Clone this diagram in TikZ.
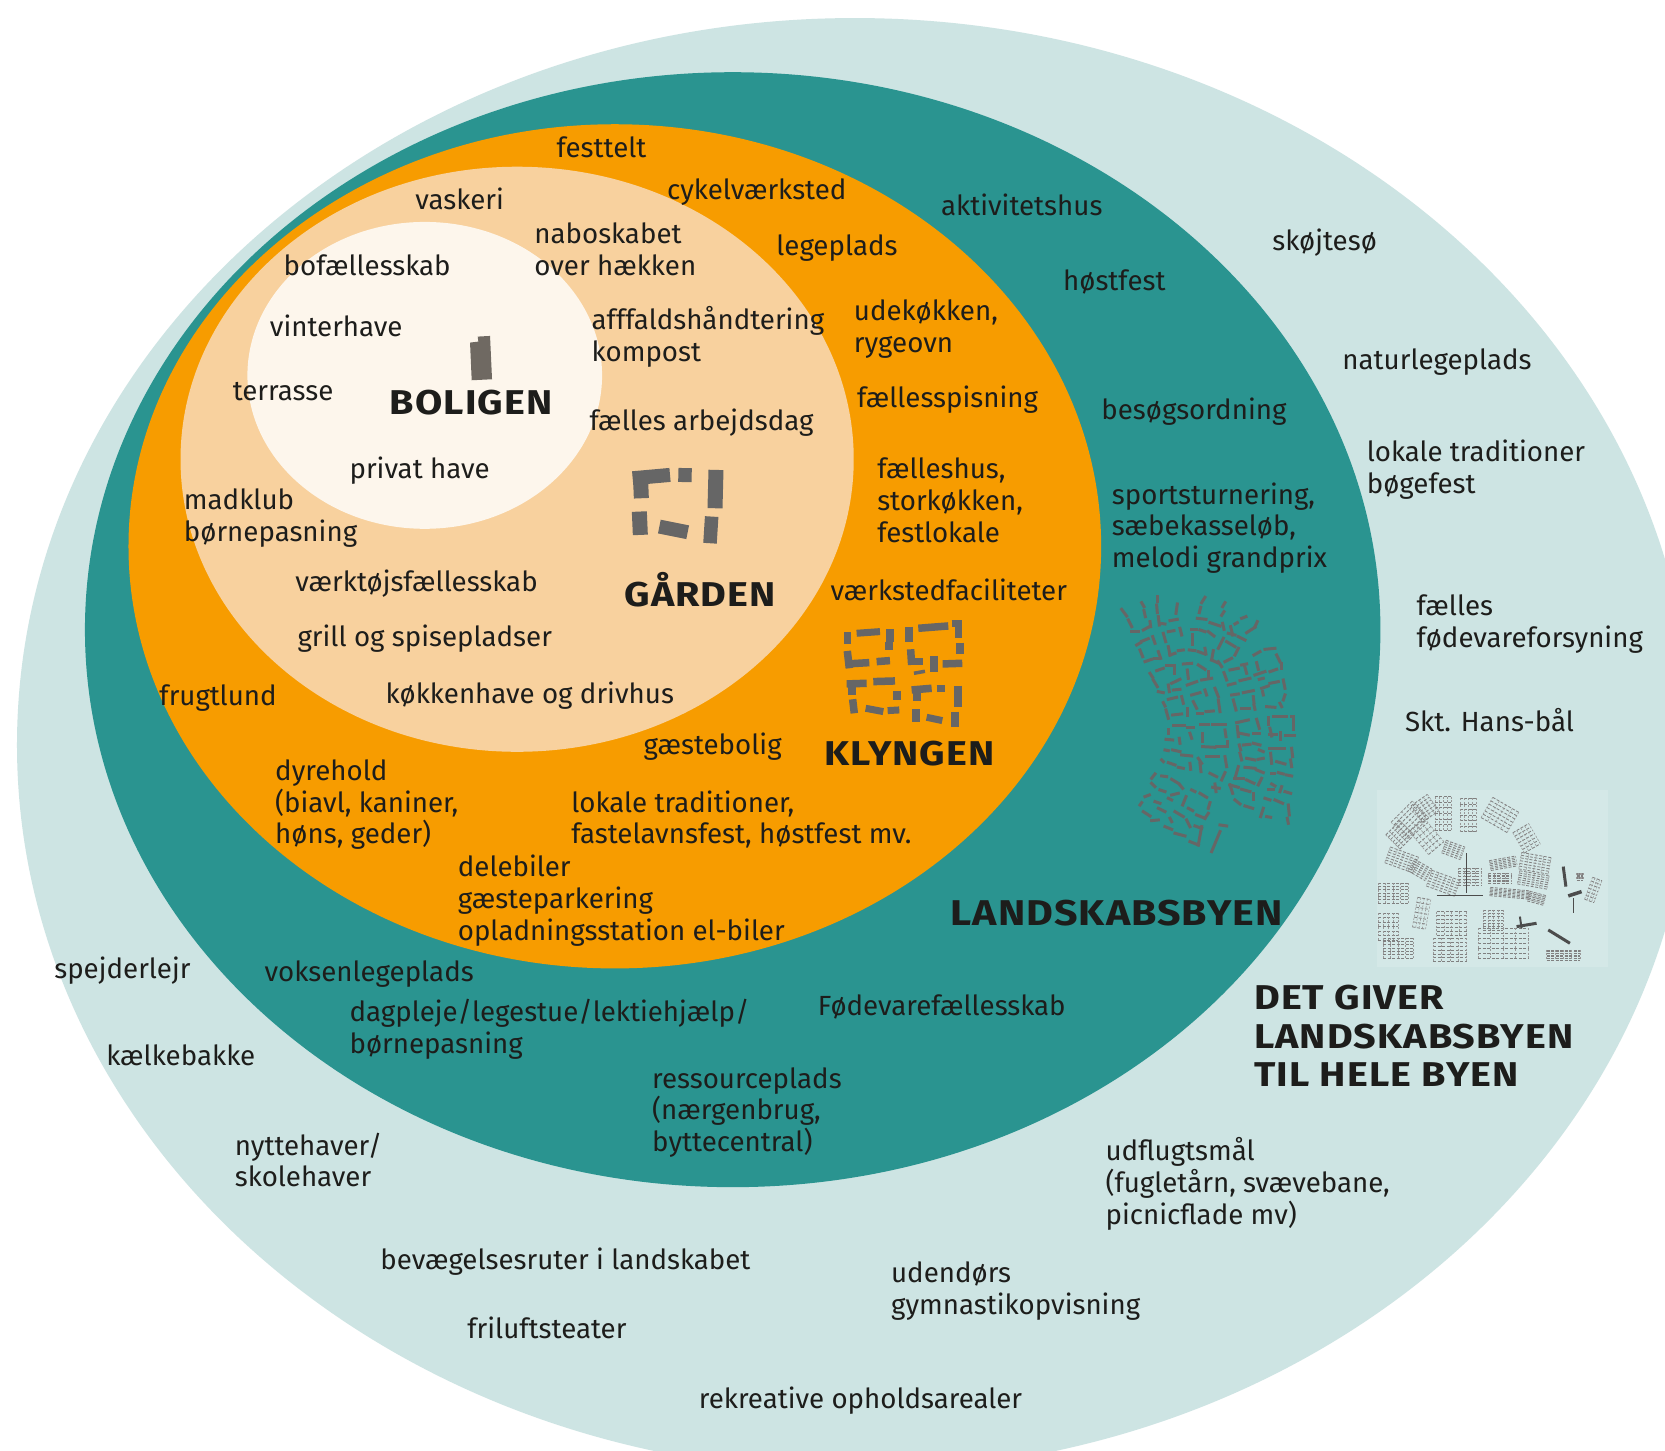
\documentclass[tikz,border=0pt]{standalone}
\usepackage{fontspec}
\setmainfont[BoldFeatures={FakeStretch=1.15,LetterSpace=3}]{Fira Sans}
\usepackage{xcolor}
\definecolor{byblue}{HTML}{CDE4E3}
\definecolor{lbyteal}{HTML}{2A9490}
\definecolor{klyorange}{HTML}{F79C00}
\definecolor{gaardtan}{HTML}{F8D19E}
\definecolor{bolcream}{HTML}{FDF6EC}
\definecolor{txtblack}{HTML}{1D1D1B}
\definecolor{housegrey}{HTML}{666666}
\tikzset{
  lbl/.style={anchor=base west,inner sep=0pt,align=left,text=txtblack,yshift=-.8pt,font=\fontsize{27.7}{31.9}\selectfont},
  ttl/.style={anchor=base west,inner sep=0pt,align=left,text=txtblack,font=\fontsize{34.4}{38.2}\selectfont\bfseries},
  zoomed/.style={x=0.3333pt,y=-0.3333pt}
}
\begin{document}
\begin{tikzpicture}[x=1.0619pt,y=-1.0619pt]
    \useasboundingbox (0,0) rectangle (1568,1366);
    \clip (0,0) rectangle (1568,1366);
    \fill[white] (0,0) rectangle (1568,1366);
    \fill[byblue] (805,701.6) ellipse [x radius=789,y radius=684.6];
    \fill[lbyteal] (690,593) ellipse [x radius=610,y radius=525];
    \fill[klyorange] (579,514.5) ellipse [x radius=458,y radius=397.5];
    \fill[gaardtan] (487,432.5) ellipse [x radius=317,y radius=275.5];
    \fill[bolcream] (400,353.5) ellipse [x radius=167,y radius=144.5];

    \begin{scope}[shift={(414.4,301.3)},zoomed,fill=housegrey!90!brown]
    \fill (90,68) -- (115,65) -- (113,50) -- (150,48) -- (156,178) -- (95,181) -- cycle;
    \end{scope}
    \begin{scope}[shift={(414.4,301.3)},zoomed,housegrey]
    \foreach \xa/\ya/\xb/\yb/\wd in {578/475/690/465/14, 601/460/604/535/15, 715/465/755/466/14,
      828/450/825/565/15, 598/575/601/645/15, 658/620/743/637/14, 815/590/810/670/13.5}
      \draw[line width=\wd pt] (\xa,\ya) -- (\xb,\yb);
    \end{scope}

    \begin{scope}[shift={(772.2,565)},zoomed,housegrey]
    \foreach \xa/\ya/\xb/\yb/\wd in {82/97/82/133/7.5, 110/100/180/95/7, 210/88/210/125/8, 207/125/207/150/7.5,
      82/153/88/205/7.5, 80/192/148/188/7.5, 170/185/210/182/7.5, 268/80/268/125/8, 295/85/385/78/7.5,
      395/72/425/72/7, 415/70/415/115/7.5, 420/128/420/162/8, 272/148/275/195/7.5, 265/185/308/185/7.5,
      342/168/342/215/8, 282/220/315/214/3.5, 368/192/427/190/7.5, 80/252/140/250/7.5, 95/245/95/285/8,
      160/245/225/243/7.5, 230/272/230/300/8, 98/298/103/340/7.5, 137/325/190/335/7, 203/332/238/330/7,
      275/270/335/265/7.5, 290/262/290/303/8, 350/265/375/265/7, 413/257/413/322/8, 288/328/288/365/8,
      320/352/367/362/7, 405/335/405/380/7.5}
      \draw[line width=\wd pt] (\xa,\ya) -- (\xb,\yb);
    \end{scope}

    \begin{scope}[shift={(1035.9,546.2)},zoomed,housegrey,line width=3pt,line cap=rect]
    \foreach \xa/\ya/\xb/\yb in {65/88/80/108, 85/120/95/140, 125/68/132/80, 132/92/136/110, 172/50/172/65,
      170/75/172/98, 232/72/228/100, 315/52/305/68, 302/82/298/98, 375/68/368/80, 372/95/365/106,
      95/156/115/156, 130/150/148/140, 150/125/152/140, 175/110/178/135, 180/130/195/132, 210/122/232/118,
      292/115/318/118, 330/128/360/138, 368/130/372/148, 412/128/405/132, 425/115/438/110, 472/125/465/140,
      440/158/465/142, 392/140/398/165, 385/160/405/165, 415/170/435/180, 110/195/122/188, 125/184/145/176,
      158/170/165/190, 190/160/197/185, 205/155/222/152, 240/145/245/165, 275/148/290/148, 300/150/315/155,
      325/155/342/168, 278/165/278/195, 370/175/355/205, 380/185/405/200, 120/210/128/230, 135/245/155/238,
      175/215/182/235, 165/235/180/235, 205/200/210/225, 210/225/225/220, 235/212/250/210, 268/210/285/212,
      295/215/315/222, 315/205/318/222, 340/212/335/240, 335/240/352/248, 355/245/365/260, 415/205/405/225,
      375/245/395/235, 462/225/480/215, 495/208/525/205, 530/225/540/245, 545/250/545/265, 510/275/530/268,
      465/285/495/275, 470/248/475/268, 390/270/415/265, 425/255/440/252, 435/262/440/280, 372/278/380/300,
      385/315/405/310, 420/302/450/295, 478/298/490/295, 150/280/158/292, 170/272/190/265, 200/258/225/258,
      225/260/225/280, 250/252/275/250, 262/270/265/295, 295/255/315/268, 325/275/325/295, 262/315/290/305,
      305/300/335/295, 160/300/172/320, 175/335/190/338, 205/315/208/335, 215/310/240/298, 220/330/240/328,
      510/310/535/305, 550/300/555/325, 555/345/550/360, 540/370/545/380, 500/380/525/382, 485/325/505/318,
      488/335/490/345, 430/338/460/332, 395/345/415/342, 400/360/408/390, 425/385/450/385, 460/350/462/368,
      462/375/465/388, 345/325/355/350, 315/330/320/345, 275/345/300/338, 245/350/250/370, 205/358/230/352,
      190/368/195/378, 280/365/290/385, 355/360/360/395, 318/395/340/393, 293/400/308/400, 262/385/262/408,
      218/405/245/402, 198/390/205/415, 220/438/255/438, 205/448/205/460, 198/478/218/480, 238/475/240/490,
      262/442/280/442, 270/460/275/475, 302/435/325/435, 338/433/378/433, 308/460/308/485, 308/500/345/502,
      350/500/382/500, 382/485/382/500, 375/450/378/470, 410/428/445/420, 470/418/478/445, 420/460/445/465,
      460/462/478/462, 412/440/415/470, 505/412/505/435, 520/410/560/410, 575/410/582/410, 582/410/582/450,
      510/445/515/468, 510/465/530/465, 542/458/542/478, 558/467/585/467, 418/495/422/510, 430/495/450/493,
      460/490/480/495, 478/510/490/515, 420/520/425/540, 440/535/465/540, 475/538/490/535, 510/505/555/505,
      575/505/578/530, 512/520/515/550, 530/545/555/552, 572/540/575/560, 195/510/205/512, 218/510/240/515,
      245/525/275/528, 295/535/305/550, 320/530/355/530, 375/530/380/560, 185/540/190/545, 205/548/225/555,
      235/562/250/565, 270/550/272/568, 300/550/303/575, 415/560/405/595, 405/595/430/595, 435/562/465/565,
      470/570/490/578, 440/600/462/610, 485/595/475/615, 515/580/525/580, 535/578/550/582, 560/585/575/588,
      515/612/525/618, 545/620/540/635, 555/635/572/640, 505/628/520/628, 390/615/398/640, 390/615/415/622,
      425/628/450/635, 462/640/462/660, 495/655/510/660, 525/660/548/670, 565/675/568/705, 405/660/420/672,
      435/678/458/685, 490/685/482/710, 500/710/512/712, 562/715/565/730, 330/580/350/590, 375/578/365/600,
      338/622/358/625, 345/612/348/635, 165/582/155/595, 185/588/200/590, 215/598/235/610, 240/615/248/625,
      155/610/165/620, 180/630/195/635, 205/655/215/660, 215/645/235/640, 258/650/248/675, 275/630/285/635,
      300/640/320/652, 330/668/325/685, 265/685/278/692, 290/705/315/715, 315/715/325/700, 135/650/148/645,
      165/665/180/670, 120/675/125/668, 175/685/195/695, 130/695/150/708, 155/722/175/720, 210/715/215/725,
      225/695/250/710, 260/720/270/740, 195/740/215/748, 225/760/255/768, 270/785/295/795, 295/795/305/740,
      285/738/305/745, 360/735/380/738, 360/755/335/815}
      \draw (\xa,\ya) -- (\xb,\yb);
    \end{scope}

    \begin{scope}[shift={(1280.7,725.1)},zoomed]
    \fill[byblue!85!white] (50,60) rectangle (745,590);
    \foreach \cx/\cy/\w/\h/\a in {150/150/90/70/45, 120/195/60/60/45, 195/115/60/60/35, 250/130/50/100/0,
      325/135/50/100/0, 420/135/90/70/-30, 500/205/55/70/30, 125/270/90/50/-20, 200/200/60/90/40, 280/240/60/40/-20,
      250/340/90/50/-20, 330/320/70/50/0, 430/280/80/30/10, 525/280/90/50/-10, 520/330/90/40/-10, 420/325/70/30/0,
      450/370/120/25/-5, 530/385/50/30/-15, 100/370/90/60/0, 85/470/60/80/0, 115/535/90/60/0, 180/300/60/40/-30,
      185/430/40/90/-10, 275/460/90/70/0, 400/450/60/60/0, 270/540/100/70/0, 430/520/150/90/0,
      700/360/30/70/-20, 610/555/100/30/0, 660/320/20/20/0}{
      \begin{scope}[shift={(\cx,\cy)},rotate=\a]
      \foreach \r in {-.5,-.33,-.17,0,.17,.33,.5}
        \draw[black!50,line width=.8pt,dash pattern=on 3pt off 1.5pt] ({-\w/2},{\r*\h}) -- ({\w/2},{\r*\h});
      \foreach \r in {-.5,-.25,0,.25,.5}
        \draw[black!40,line width=.6pt,dash pattern=on 2pt off 1.5pt] ({\r*\w},{-\h/2}) -- ({\r*\w},{\h/2});
      \end{scope}
    }
    \foreach \xa/\ya/\xb/\yb/\wd in {230/378/370/378/1, 320/250/320/370/1, 610/290/618/350/3,
      625/378/665/365/3.5, 470/470/530/460/3, 565/480/630/520/3, 480/440/485/475/2, 640/385/640/430/1.2}
      \draw[black!70,line width=\wd pt] (\xa,\ya) -- (\xb,\yb);
    \end{scope}

    \node[lbl] (festtelt) at (524,148) {festtelt};
    \node[lbl] (cykel) at (628,187) {cykelværksted};
    \node[lbl] (aktiv) at (886,202) {aktivitetshus};
    \node[lbl] (skoejte) at (1198,235) {skøjtesø};
    \node[lbl] (vaskeri) at (391,197) {vaskeri};
    \node[lbl] (nabo) at (503,259) {naboskabet\\over hækken};
    \node[lbl] (bofaelles) at (267,259) {bofællesskab};
    \node[lbl] (legeplads) at (731,240) {legeplads};
    \node[lbl] (hoestfest) at (1001,273) {høstfest};
    \node[lbl] (vinter) at (254,316) {vinterhave};
    \node[lbl] (affald) at (557,340) {afffaldshåndtering\\kompost};
    \node[lbl] (udekoek) at (804,331) {udekøkken,\\rygeovn};
    \node[lbl] (naturleg) at (1264,347) {naturlegeplads};
    \node[lbl] (terrasse) at (219,376) {terrasse};
    \node[lbl] (spisning) at (807,383) {fællesspisning};
    \node[lbl] (besoeg) at (1037,394) {besøgsordning};
    \node[lbl] (arbejd) at (555,405) {fælles arbejdsdag};
    \node[lbl] (lokale) at (1287,464) {lokale traditioner\\bøgefest};
    \node[lbl] (privat) at (329,450) {privat have};
    \node[lbl] (faelleshus) at (826,510) {fælleshus,\\storkøkken,\\festlokale};
    \node[lbl] (sport) at (1047,534) {sportsturnering,\\sæbekasseløb,\\melodi grandprix};
    \node[lbl] (madklub) at (173,509) {madklub\\børnepasning};
    \node[lbl] (vaerktoej) at (278,556) {værktøjsfællesskab};
    \node[lbl] (vaerksted) at (782,565) {værkstedfaciliteter};
    \node[lbl] (foedevare) at (1334,609) {fælles\\fødevareforsyning};
    \node[lbl] (grill) at (280,608) {grill og spisepladser};
    \node[lbl] (frugt) at (150,664) {frugtlund};
    \node[lbl] (koekken) at (363,662) {køkkenhave og drivhus};
    \node[lbl] (sankthans) at (1323,688) {Skt. Hans-bål};
    \node[lbl] (gaeste) at (606,710) {gæstebolig};
    \node[lbl] (dyrehold) at (259,794) {dyrehold\\(biavl, kaniner,\\høns, geder)};
    \node[lbl] (fastelavn) at (538,794) {lokale traditioner,\\fastelavnsfest, høstfest mv.};
    \node[lbl] (delebiler) at (431,885) {delebiler\\gæsteparkering\\opladningsstation el-biler};
    \node[lbl] (spejder) at (51,921) {spejderlejr};
    \node[lbl] (voksen) at (249,924) {voksenlegeplads};
    \node[lbl] (dagpleje) at (329,991) {dagpleje/legestue/lektiehjælp/\\børnepasning};
    \node[lbl] (foedefaelles) at (770,956) {Fødevarefællesskab};
    \node[lbl] (kaelke) at (100,1003) {kælkebakke};
    \node[lbl] (ressource) at (614,1084) {ressourceplads\\(nærgenbrug,\\byttecentral)};
    \node[lbl] (nytte) at (221,1117) {nyttehaver/\\skolehaver};
    \node[lbl] (udflugt) at (1041,1152) {udflugtsmål\\(fugletårn, svævebane,\\picnicflade mv)};
    \node[lbl] (bevaeg) at (358,1195) {bevægelsesruter i landskabet};
    \node[lbl] (udendoers) at (839,1237) {udendørs\\gymnastikopvisning};
    \node[lbl] (friluft) at (440,1260) {friluftsteater};
    \node[lbl] (rekreativ) at (658,1326) {rekreative opholdsarealer};

    \node[ttl] (boligen) at (367,390) {BOLIGEN};
    \node[ttl] (gaarden) at (588,571) {GÅRDEN};
    \node[ttl] (klyngen) at (776,721) {KLYNGEN};
    \node[ttl,font=\fontsize{35.8}{38.2}\selectfont\bfseries] (landskab) at (895,872) {LANDSKABSBYEN};
    \node[ttl] (giver) at (1181,1023) {DET GIVER\\LANDSKABSBYEN\\TIL HELE BYEN};
\end{tikzpicture}
\end{document}
